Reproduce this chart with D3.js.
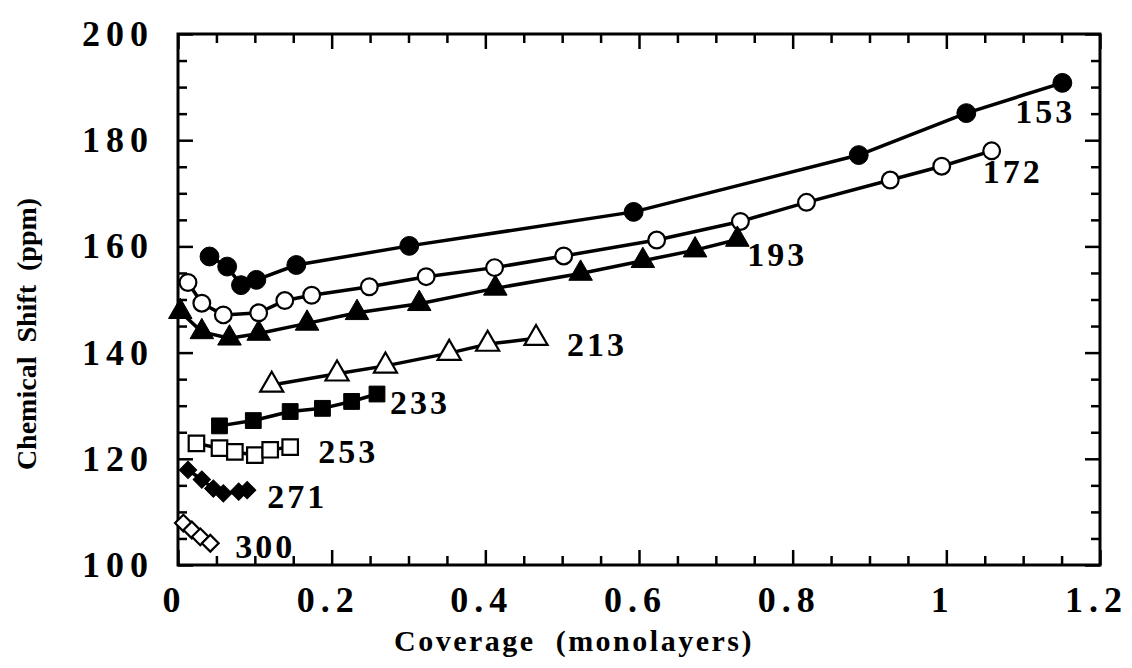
<!DOCTYPE html>
<html>
<head>
<meta charset="utf-8">
<script src="https://cdn.jsdelivr.net/npm/d3@7"></script>
<style>
  html, body { margin: 0; padding: 0; background: #fff; }
  svg text { font-family: "Liberation Serif", "DejaVu Serif", serif; font-weight: bold; fill: #000; }
</style>
</head>
<body>
<svg id="chart" width="1132" height="668"></svg>
<script>
// Coverage (monolayers) and chemical shift (ppm) for each temperature run (K)
const temperatures = ["153", "172", "193", "213", "233", "253", "271", "300"];

const coverage153 = [0.041, 0.064, 0.082, 0.102, 0.154, 0.301, 0.593, 0.886, 1.026, 1.151];
const shift153    = [158.1, 156.2, 152.7, 153.7, 156.5, 160.1, 166.5, 177.2, 185.1, 190.8];

const coverage172 = [0.013, 0.031, 0.059, 0.105, 0.139, 0.174, 0.249, 0.323, 0.412, 0.502, 0.623, 0.732, 0.818, 0.927, 0.994, 1.059];
const shift172    = [153.2, 149.3, 147.1, 147.5, 149.8, 150.8, 152.4, 154.3, 156.0, 158.2, 161.2, 164.7, 168.3, 172.5, 175.1, 178.0];

const coverage193 = [0.003, 0.031, 0.067, 0.105, 0.168, 0.233, 0.314, 0.413, 0.524, 0.605, 0.673, 0.728];
const shift193    = [147.7, 143.9, 142.7, 143.6, 145.5, 147.5, 149.2, 152.1, 154.9, 157.3, 159.3, 161.3];

const coverage213 = [0.122, 0.207, 0.270, 0.353, 0.403, 0.466];
const shift213    = [133.9, 136.0, 137.5, 139.9, 141.6, 142.7];

const coverage233 = [0.054, 0.098, 0.146, 0.188, 0.226, 0.259];
const shift233    = [126.2, 127.2, 128.9, 129.5, 130.8, 132.2];

const coverage253 = [0.024, 0.054, 0.074, 0.100, 0.120, 0.146];
const shift253    = [122.9, 122.0, 121.3, 120.7, 121.7, 122.2];

const coverage271 = [0.013, 0.031, 0.046, 0.059, 0.079, 0.090];
const shift271    = [117.9, 116.1, 114.4, 113.5, 113.8, 114.1];

const coverage300 = [0.007, 0.018, 0.029, 0.042];
const shift300    = [107.9, 106.6, 105.3, 104.1];

const xTickLabels = ["0", "0.2", "0.4", "0.6", "0.8", "1", "1.2"];
const yTickLabels = ["100", "120", "140", "160", "180", "200"];

// ---- layout ----
const svg = d3.select("#chart");
const plot = { left: 178, right: 1100, top: 34, bottom: 565 };

const x = d3.scaleLinear().domain([0, 1.2]).range([plot.left, plot.right]);
const y = d3.scaleLinear().domain([100, 200]).range([plot.bottom, plot.top]);

const xMajor = xTickLabels.map(Number);
const yMajor = yTickLabels.map(Number);
const xMinor = d3.range(0, 1.2001, 0.05).filter(v => !xMajor.some(m => Math.abs(m - v) < 1e-6));
const yMinor = d3.range(100, 200.001, 5).filter(v => !yMajor.some(m => Math.abs(m - v) < 1e-6));

const majorLen = 15, minorLen = 9;
const tickFont = 36, tickSpacing = 6;

function styleAxis(g) {
  g.select(".domain").remove();
  g.selectAll(".tick line").attr("stroke", "#000").attr("stroke-width", 2.5);
}

// bottom axis: labelled major ticks pointing inward
svg.append("g")
  .attr("transform", `translate(0,${plot.bottom})`)
  .call(d3.axisBottom(x).tickValues(xMajor).tickSize(-majorLen).tickPadding(21)
    .tickFormat((d, i) => xTickLabels[i]))
  .call(styleAxis)
  .call(g => g.selectAll("text")
    .attr("font-size", tickFont).attr("letter-spacing", tickSpacing)
    .attr("dx", -4));
svg.append("g")
  .attr("transform", `translate(0,${plot.bottom})`)
  .call(d3.axisBottom(x).tickValues(xMinor).tickSize(-minorLen).tickFormat(""))
  .call(styleAxis);

// top axis: ticks only
svg.append("g")
  .attr("transform", `translate(0,${plot.top})`)
  .call(d3.axisTop(x).tickValues(xMajor).tickSize(-majorLen).tickFormat(""))
  .call(styleAxis);
svg.append("g")
  .attr("transform", `translate(0,${plot.top})`)
  .call(d3.axisTop(x).tickValues(xMinor).tickSize(-minorLen).tickFormat(""))
  .call(styleAxis);

// left axis: labelled major ticks pointing inward
svg.append("g")
  .attr("transform", `translate(${plot.left},0)`)
  .call(d3.axisLeft(y).tickValues(yMajor).tickSize(-majorLen).tickPadding(30 - tickSpacing)
    .tickFormat((d, i) => yTickLabels[i]))
  .call(styleAxis)
  .call(g => g.selectAll("text")
    .attr("font-size", tickFont).attr("letter-spacing", tickSpacing));
svg.append("g")
  .attr("transform", `translate(${plot.left},0)`)
  .call(d3.axisLeft(y).tickValues(yMinor).tickSize(-minorLen).tickFormat(""))
  .call(styleAxis);

// right axis: ticks only
svg.append("g")
  .attr("transform", `translate(${plot.right},0)`)
  .call(d3.axisRight(y).tickValues(yMajor).tickSize(-majorLen).tickFormat(""))
  .call(styleAxis);
svg.append("g")
  .attr("transform", `translate(${plot.right},0)`)
  .call(d3.axisRight(y).tickValues(yMinor).tickSize(-minorLen).tickFormat(""))
  .call(styleAxis);

// frame
svg.append("rect")
  .attr("x", plot.left).attr("y", plot.top)
  .attr("width", plot.right - plot.left).attr("height", plot.bottom - plot.top)
  .attr("fill", "none").attr("stroke", "#000").attr("stroke-width", 3);

// axis titles
svg.append("text")
  .attr("x", 574).attr("y", 651)
  .attr("text-anchor", "middle").attr("font-size", 30)
  .attr("letter-spacing", 2.5)
  .attr("xml:space", "preserve")
  .text("Coverage  (monolayers)");
svg.append("text")
  .attr("transform", "translate(36,334) rotate(-90)")
  .attr("text-anchor", "middle").attr("font-size", 28)
  .attr("xml:space", "preserve")
  .text("Chemical  Shift  (ppm)");

// ---- series ----
const series = [
  { name: "153", xs: coverage153, ys: shift153, shape: "circle",   filled: true,  label: [-47, 40] },
  { name: "172", xs: coverage172, ys: shift172, shape: "circle",   filled: false, label: [-9, 32] },
  { name: "193", xs: coverage193, ys: shift193, shape: "triangle", filled: true,  label: [10, 27] },
  { name: "213", xs: coverage213, ys: shift213, shape: "triangle", filled: false, label: [31, 18] },
  { name: "233", xs: coverage233, ys: shift233, shape: "square",   filled: true,  label: [13, 20] },
  { name: "253", xs: coverage253, ys: shift253, shape: "square",   filled: false, label: [28, 16] },
  { name: "271", xs: coverage271, ys: shift271, shape: "diamond",  filled: true,  label: [20, 18] },
  { name: "300", xs: coverage300, ys: shift300, shape: "diamond",  filled: false, label: [25, 15] }
];

const symbolFor = {
  circle:   d3.symbol().type(d3.symbolCircle).size(280),
  triangle: d3.symbol().type(d3.symbolTriangle).size(240),
  square:   d3.symbol().type(d3.symbolSquare).size(250),
  diamond:  d3.symbol().type(d3.symbolSquare).size(150)
};
const openSymbolFor = {
  circle:   d3.symbol().type(d3.symbolCircle).size(220),
  triangle: d3.symbol().type(d3.symbolTriangle).size(230),
  square:   d3.symbol().type(d3.symbolSquare).size(240),
  diamond:  d3.symbol().type(d3.symbolSquare).size(140)
};

const line = d3.line().x(d => x(d[0])).y(d => y(d[1]));

series.forEach(s => {
  const pts = s.xs.map((v, i) => [v, s.ys[i]]);
  const g = svg.append("g").attr("class", "series-" + s.name);

  g.append("path")
    .datum(pts)
    .attr("d", line)
    .attr("fill", "none")
    .attr("stroke", "#000")
    .attr("stroke-width", 3.5)
    .attr("stroke-linejoin", "round");

  const gen = s.filled ? symbolFor[s.shape] : openSymbolFor[s.shape];
  g.selectAll("path.mark")
    .data(pts)
    .join("path")
    .attr("class", "mark")
    .attr("d", gen)
    .attr("transform", d => `translate(${x(d[0])},${y(d[1])})` + (s.shape === "diamond" ? " rotate(45)" : ""))
    .attr("fill", s.filled ? "#000" : "#fff")
    .attr("stroke", "#000")
    .attr("stroke-width", s.filled ? 1 : 2.2);

  const last = pts[pts.length - 1];
  g.append("text")
    .attr("x", x(last[0]) + s.label[0])
    .attr("y", y(last[1]) + s.label[1])
    .attr("font-size", 34)
    .attr("letter-spacing", 3)
    .text(s.name);
});
</script>
</body>
</html>
